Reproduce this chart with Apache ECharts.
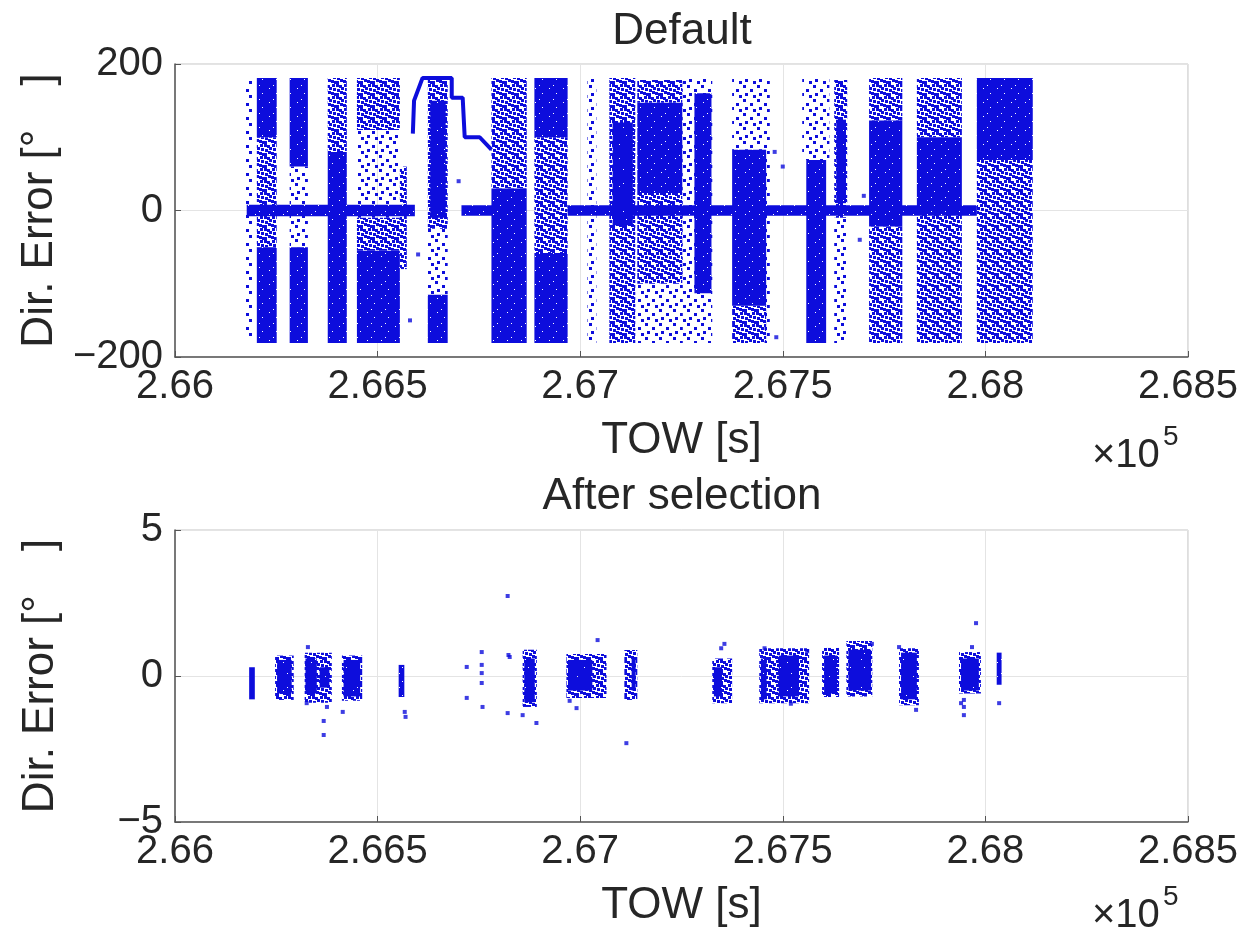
<!DOCTYPE html>
<html>
<head>
<meta charset="utf-8">
<title>Dir. Error</title>
<script src="https://cdn.jsdelivr.net/npm/echarts@6/dist/echarts.min.js"></script>
<style>
  html, body { margin: 0; padding: 0; background: #fff; }
  #chart { width: 1241px; height: 933px; }
</style>
</head>
<body>
<div id="chart"></div>
<script>
// TOW in units of 1e5 s, Dir. Error in degrees
// blocks are dense regions of the scatter: [towStart, towEnd, errLow, errHigh]
const xTickLabels = ["2.66", "2.665", "2.67", "2.675", "2.68", "2.685"];

const topDense = [
  [2.66177, 2.66592, -8, 8],
  [2.66202, 2.66251, 100, 181],
  [2.66202, 2.66251, -181, -50],
  [2.66283, 2.66328, 60, 181],
  [2.66283, 2.66328, -181, -50],
  [2.66377, 2.66424, -181, 80],
  [2.66449, 2.66555, -181, -55],
  [2.66630, 2.66668, -10, 150],
  [2.66624, 2.66673, -181, -115],
  [2.66707, 2.66789, -7, 7],
  [2.66781, 2.66868, -181, 30],
  [2.66887, 2.66969, 100, 181],
  [2.66887, 2.66969, -181, -58],
  [2.66969, 2.67979, -7, 7],
  [2.67080, 2.67130, -20, 120],
  [2.67141, 2.67252, 24, 147],
  [2.67282, 2.67324, -113, 160],
  [2.67375, 2.67459, -130, 83],
  [2.67558, 2.67607, -181, 69],
  [2.67632, 2.67656, 10, 124],
  [2.67713, 2.67795, -22, 123],
  [2.67831, 2.67942, 0, 100],
  [2.67979, 2.68117, 69, 181]
];

const topMedium = [
  [2.66202, 2.66251, -50, 100],
  [2.66377, 2.66424, 80, 181],
  [2.66449, 2.66555, 110, 181],
  [2.66449, 2.66555, -55, -10],
  [2.66555, 2.66572, -80, 60],
  [2.66624, 2.66673, -25, 181],
  [2.66781, 2.66868, 30, 181],
  [2.66887, 2.66969, -58, 100],
  [2.67072, 2.67136, -181, 181],
  [2.67141, 2.67252, 147, 178],
  [2.67141, 2.67252, -100, 24],
  [2.67375, 2.67459, -181, -130],
  [2.67627, 2.67659, -10, 178],
  [2.67713, 2.67795, 123, 181],
  [2.67713, 2.67795, -181, -22],
  [2.67831, 2.67942, 100, 181],
  [2.67831, 2.67942, -181, 0],
  [2.67979, 2.68117, -181, 69]
];

const topSparse = [
  [2.66173, 2.66190, -172, 178],
  [2.66283, 2.66328, -50, 60],
  [2.66449, 2.66555, -10, 110],
  [2.66624, 2.66673, -115, -25],
  [2.67018, 2.67040, -181, 181],
  [2.67141, 2.67252, -181, -100],
  [2.67252, 2.67326, -181, 181],
  [2.67375, 2.67459, 83, 181],
  [2.67455, 2.67468, -181, 181],
  [2.67548, 2.67615, 69, 181],
  [2.67627, 2.67659, -181, -10]
];

// the stepped track around 2.667e5
const topStepLine = [
  [2.66587, 105], [2.66590, 150], [2.66611, 181], [2.66683, 181],
  [2.66683, 154], [2.66710, 154], [2.66715, 100], [2.66752, 100],
  [2.66781, 83]
];

const topPoints = [
  [2.67484, -173], [2.67480, 80], [2.67500, 60], [2.66580, -150],
  [2.66700, 40], [2.66600, -60], [2.67690, -40], [2.67700, 20]
];

const bottomDense = [
  [2.66183, 2.66197, -0.8, 0.3],
  [2.66252, 2.66288, -0.6, 0.55],
  [2.66322, 2.66350, -0.6, 0.6],
  [2.66357, 2.66381, -0.4, 0.3],
  [2.66416, 2.66457, -0.7, 0.55],
  [2.66552, 2.66566, -0.72, 0.38],
  [2.66862, 2.66888, -0.9, 0.6],
  [2.66970, 2.67030, -0.5, 0.55],
  [2.67127, 2.67137, -0.5, 0.6],
  [2.67330, 2.67350, -0.7, 0.3],
  [2.67446, 2.67460, -0.8, 0.6],
  [2.67490, 2.67540, -0.7, 0.7],
  [2.67602, 2.67634, -0.6, 0.7],
  [2.67662, 2.67718, -0.5, 0.9],
  [2.67792, 2.67831, -0.8, 0.8],
  [2.67940, 2.67984, -0.5, 0.6],
  [2.68028, 2.68040, -0.3, 0.8]
];

const bottomMedium = [
  [2.66247, 2.66293, -0.82, 0.7],
  [2.66320, 2.66387, -0.92, 0.8],
  [2.66412, 2.66462, -0.85, 0.7],
  [2.66858, 2.66893, -1.06, 0.9],
  [2.66966, 2.67065, -0.75, 0.75],
  [2.67109, 2.67141, -0.82, 0.89],
  [2.67326, 2.67375, -0.93, 0.6],
  [2.67442, 2.67565, -0.93, 0.95],
  [2.67597, 2.67639, -0.72, 0.96],
  [2.67657, 2.67721, -0.7, 1.2],
  [2.67787, 2.67836, -1.0, 0.95],
  [2.67935, 2.67989, -0.6, 0.82]
];

const bottomPoints = [
  [2.66328, 0.99], [2.66325, -0.93], [2.66375, -1.06], [2.66367, -1.54],
  [2.66367, -2.02], [2.66414, -1.23], [2.66569, -1.40], [2.66567, -1.23],
  [2.66720, 0.31], [2.66720, -0.75], [2.66757, 0.82], [2.66757, 0.38],
  [2.66757, 0.10], [2.66757, -0.24], [2.66759, -1.06], [2.66823, 0.72],
  [2.66821, -1.27], [2.66821, 2.74], [2.66826, 0.65], [2.66858, -1.34],
  [2.66892, -1.61], [2.67043, 1.23], [2.66974, -0.85], [2.66991, -1.10],
  [2.67114, -2.30], [2.67356, 1.10], [2.67348, 0.95], [2.67787, 0.99],
  [2.67829, -1.16], [2.67977, 1.81], [2.67967, 0.99], [2.67947, -0.82],
  [2.67947, -1.06], [2.67947, -1.34], [2.68034, -0.93], [2.67940, -0.93],
  [2.67720, 1.10], [2.67455, 0.95], [2.67520, -0.95], [2.67560, 0.85]
];

const dotColor = "#0d0ddc";

// small texture tiles that imitate overlapping markers
function makeTile(size, dots, holes) {
  const c = document.createElement("canvas");
  c.width = size;
  c.height = size;
  const g = c.getContext("2d");
  g.fillStyle = dotColor;
  if (holes) {
    g.fillRect(0, 0, size, size);
    holes.forEach(function (h) { g.clearRect(h[0], h[1], h[2], h[3]); });
  } else {
    dots.forEach(function (d) { g.fillRect(d[0], d[1], 3, 3); });
  }
  return c;
}

const denseFill = {
  image: makeTile(14, null, [[3, 4, 1, 1], [10, 9, 1, 1], [7, 1, 1, 1]]),
  repeat: "repeat"
};
const mediumFill = {
  image: makeTile(12, [[0, 0], [3, 1], [8, 0], [5, 3], [1, 5], [9, 4], [4, 7], [7, 8], [0, 9], [10, 9]]),
  repeat: "repeat"
};
const sparseFill = {
  image: makeTile(14, [[1, 1], [8, 5], [3, 9], [11, 11]]),
  repeat: "repeat"
};

function blockSeries(data, fill, gridIdx) {
  return {
    type: "custom",
    xAxisIndex: gridIdx,
    yAxisIndex: gridIdx,
    encode: { x: [0, 1], y: [2, 3] },
    silent: true,
    data: data,
    renderItem: function (params, api) {
      const p0 = api.coord([api.value(0), api.value(3)]);
      const p1 = api.coord([api.value(1), api.value(2)]);
      return {
        type: "rect",
        shape: { x: p0[0], y: p0[1], width: p1[0] - p0[0], height: p1[1] - p0[1] },
        style: { fill: fill }
      };
    }
  };
}

function pointSeries(data, gridIdx) {
  return {
    type: "scatter",
    xAxisIndex: gridIdx,
    yAxisIndex: gridIdx,
    symbol: "rect",
    symbolSize: 4,
    itemStyle: { color: dotColor },
    silent: true,
    data: data
  };
}

const textColor = "#262626";
const font = "Liberation Sans, Arial, sans-serif";

function xAxisFor(gridIdx) {
  return {
    gridIndex: gridIdx,
    type: "value",
    min: 2.66,
    max: 2.685,
    interval: 0.005,
    name: "TOW [s]",
    nameLocation: "middle",
    nameGap: 62,
    nameTextStyle: { fontSize: 44, color: textColor, fontFamily: font },
    axisLine: { onZero: false, lineStyle: { color: "#555", width: 1.5 } },
    axisTick: { inside: true, length: 6, lineStyle: { color: "#555" } },
    axisLabel: {
      fontSize: 40,
      color: textColor,
      fontFamily: font,
      margin: 10,
      formatter: function (v) { return xTickLabels[Math.round((v - 2.66) / 0.005)]; }
    },
    splitLine: { show: true, lineStyle: { color: "#e4e4e4" } }
  };
}

function yAxisFor(gridIdx, lim) {
  return {
    gridIndex: gridIdx,
    type: "value",
    min: -lim,
    max: lim,
    interval: lim,
    name: "Dir. Error [\u00b0\u3000]",
    nameLocation: "middle",
    nameGap: 112,
    nameRotate: 90,
    nameTextStyle: { fontSize: 44, color: textColor, fontFamily: font },
    axisLine: { show: true, onZero: false, lineStyle: { color: "#555", width: 1.5 } },
    axisTick: { show: true, inside: true, length: 6, lineStyle: { color: "#555" } },
    axisLabel: {
      fontSize: 40,
      color: textColor,
      fontFamily: font,
      margin: 12,
      formatter: function (v) { return String(v).replace("-", "\u2212"); }
    },
    splitLine: { show: true, lineStyle: { color: "#e4e4e4" } }
  };
}

function label(text, x, y, size, align) {
  return {
    type: "text",
    x: x,
    y: y,
    silent: true,
    style: {
      text: text,
      fill: textColor,
      font: size + "px " + font,
      align: align,
      textAlign: align,
      verticalAlign: "middle",
      textVerticalAlign: "middle"
    }
  };
}

const chart = echarts.init(document.getElementById("chart"));
chart.setOption({
  animation: false,
  backgroundColor: "#fff",
  grid: [
    { left: 175, right: 52, top: 64, height: 293, show: true, borderColor: "#c4c4c4", borderWidth: 1 },
    { left: 175, right: 52, top: 530, height: 292, show: true, borderColor: "#c4c4c4", borderWidth: 1 }
  ],
  xAxis: [xAxisFor(0), xAxisFor(1)],
  yAxis: [yAxisFor(0, 200), yAxisFor(1, 5)],
  graphic: [
    label("Default", 682, 32, 44, "center"),
    label("After selection", 682, 497, 44, "center"),
    label("\u00d710", 1092, 456, 40, "left"),
    label("5", 1163, 437, 28, "left"),
    label("\u00d710", 1092, 916, 40, "left"),
    label("5", 1163, 897, 28, "left")
  ],
  series: [
    blockSeries(topSparse, sparseFill, 0),
    blockSeries(topMedium, mediumFill, 0),
    blockSeries(topDense, denseFill, 0),
    {
      type: "line",
      xAxisIndex: 0,
      yAxisIndex: 0,
      symbol: "none",
      silent: true,
      lineStyle: { color: dotColor, width: 4 },
      data: topStepLine
    },
    pointSeries(topPoints, 0),
    blockSeries(bottomMedium, mediumFill, 1),
    blockSeries(bottomDense, denseFill, 1),
    pointSeries(bottomPoints, 1)
  ]
});
</script>
</body>
</html>
